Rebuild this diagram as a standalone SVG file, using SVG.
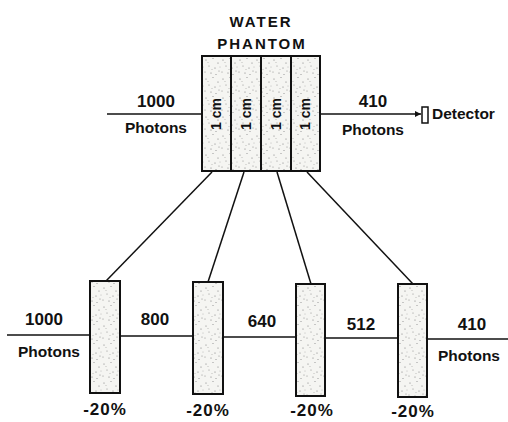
<svg xmlns="http://www.w3.org/2000/svg" width="508" height="422" viewBox="0 0 508 422">
<style>
text{font-family:"Liberation Sans",Arial,sans-serif;font-weight:bold;fill:#111}
.lbl{font-size:15.5px}
.num{font-size:17px}
.pct{font-size:17px;letter-spacing:1px}
.ttl{font-size:15px;letter-spacing:2px}
.cm{font-size:14px}
.box{fill:url(#stip);stroke:#111;stroke-width:2}
.ln{stroke:#111;stroke-width:1.5;fill:none}
</style>
<defs>
<pattern id="stip" width="17" height="19" patternUnits="userSpaceOnUse">
<rect width="17" height="19" fill="#f5f5f2"/>
<g fill="#7a7a7a">
<circle cx="2" cy="3" r="0.6"/><circle cx="9" cy="1.5" r="0.5"/><circle cx="14" cy="6" r="0.6"/>
<circle cx="5" cy="9" r="0.5"/><circle cx="11" cy="11" r="0.6"/><circle cx="1" cy="15" r="0.5"/>
<circle cx="7" cy="16" r="0.6"/><circle cx="15" cy="14" r="0.5"/><circle cx="12" cy="17.5" r="0.5"/>
<circle cx="4" cy="5.5" r="0.4"/><circle cx="16" cy="10" r="0.4"/><circle cx="8" cy="12.5" r="0.4"/>
</g>
</pattern>
<marker id="arr" markerWidth="8" markerHeight="8" refX="6" refY="3" orient="auto" markerUnits="userSpaceOnUse">
<path d="M0,0 L6,3 L0,6 Z" fill="#111"/>
</marker>
</defs>

<g id="title">
<text class="ttl" x="261" y="27" text-anchor="middle">WATER</text>
<text class="ttl" x="262" y="49" text-anchor="middle">PHANTOM</text>
</g>

<g id="phantom">
<rect class="box" x="202" y="56" width="29" height="115"/>
<rect class="box" x="231" y="56" width="30" height="115"/>
<rect class="box" x="261" y="56" width="30" height="115"/>
<rect class="box" x="291" y="56" width="29" height="115"/>
<text class="cm" transform="translate(221,114) rotate(-90)" text-anchor="middle">1 cm</text>
<text class="cm" transform="translate(251,114) rotate(-90)" text-anchor="middle">1 cm</text>
<text class="cm" transform="translate(281,114) rotate(-90)" text-anchor="middle">1 cm</text>
<text class="cm" transform="translate(310,114) rotate(-90)" text-anchor="middle">1 cm</text>
</g>

<g id="detector">
<rect x="422" y="107" width="6" height="16" fill="#fff" stroke="#111" stroke-width="1.5"/>
<text class="lbl" x="432" y="119">Detector</text>
</g>

<g id="slab1"><rect class="box" x="90" y="281" width="30" height="112"/></g>
<g id="slab2"><rect class="box" x="193" y="282" width="30" height="112"/></g>
<g id="slab3"><rect class="box" x="296" y="284" width="29" height="112"/></g>
<g id="slab4"><rect class="box" x="398" y="284" width="29" height="113"/></g>

<g id="connectors">
<line class="ln" x1="107" y1="114" x2="201" y2="114"/>
<line class="ln" x1="321" y1="114" x2="421" y2="114" marker-end="url(#arr)"/>
<line class="ln" x1="212" y1="172" x2="106" y2="281"/>
<line class="ln" x1="244" y1="172" x2="208" y2="282"/>
<line class="ln" x1="277" y1="172" x2="311" y2="284"/>
<line class="ln" x1="307" y1="172" x2="413" y2="284"/>
<line class="ln" x1="7" y1="335" x2="90" y2="335"/>
<line class="ln" x1="120" y1="336" x2="193" y2="336"/>
<line class="ln" x1="223" y1="337" x2="296" y2="337"/>
<line class="ln" x1="325" y1="338" x2="398" y2="338"/>
<line class="ln" x1="427" y1="339" x2="508" y2="339"/>
</g>

<g id="labels">
<text class="num" x="156" y="107" text-anchor="middle">1000</text>
<text class="lbl" x="156" y="133" text-anchor="middle">Photons</text>
<text class="num" x="373" y="107" text-anchor="middle">410</text>
<text class="lbl" x="373" y="135" text-anchor="middle">Photons</text>
<text class="num" x="44" y="325" text-anchor="middle">1000</text>
<text class="lbl" x="49" y="357" text-anchor="middle">Photons</text>
<text class="num" x="155" y="325" text-anchor="middle">800</text>
<text class="num" x="262" y="327" text-anchor="middle">640</text>
<text class="num" x="361" y="330" text-anchor="middle">512</text>
<text class="num" x="472" y="330" text-anchor="middle">410</text>
<text class="lbl" x="469" y="361" text-anchor="middle">Photons</text>
<text class="pct" x="105" y="415" text-anchor="middle">-20%</text>
<text class="pct" x="208" y="416" text-anchor="middle">-20%</text>
<text class="pct" x="312" y="416" text-anchor="middle">-20%</text>
<text class="pct" x="413" y="417" text-anchor="middle">-20%</text>
</g>
</svg>
